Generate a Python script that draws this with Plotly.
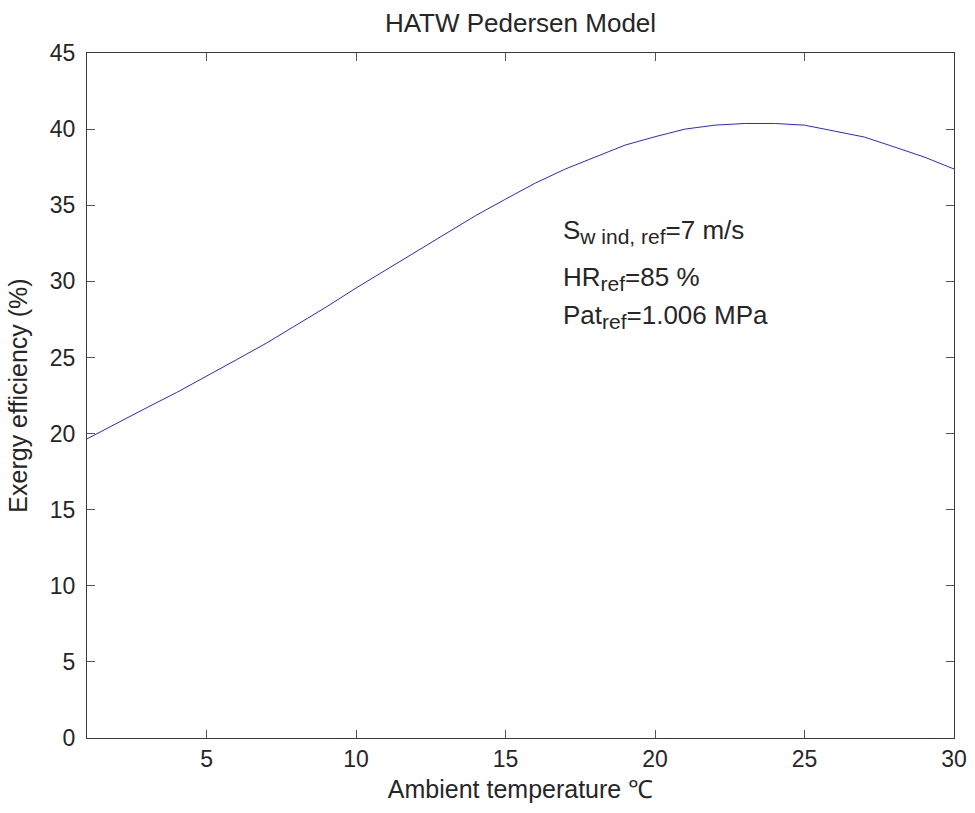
import plotly.graph_objects as go

# Data
temperature = [1, 2, 3, 4, 5, 6, 7, 8, 9, 10, 11, 12, 13, 14, 15,
               16, 17, 18, 19, 20, 21, 22, 23, 24, 25, 26, 27, 28, 29, 30]
efficiency = [19.65, 20.7, 21.7, 22.7, 23.75, 24.85, 25.94, 27.1, 28.31, 29.56,
              30.75, 31.95, 33.15, 34.32, 35.4, 36.46, 37.38, 38.17, 38.95, 39.5,
              40.0, 40.26, 40.37, 40.37, 40.26, 39.87, 39.48, 38.83, 38.17, 37.38]

x_ticks = [5, 10, 15, 20, 25, 30]
y_ticks = [0, 5, 10, 15, 20, 25, 30, 35, 40, 45]

title_text = "HATW Pedersen Model"
x_label = "Ambient temperature \u2103"
y_label = "Exergy efficiency (%)"
note_main = ["S", "HR", "Pat"]
note_sub = ["w ind, ref", "ref", "ref"]
note_rest = ["=7 m/s", "=85 %", "=1.006 MPa"]
note_y = [33.3, 30.2, 27.7]

FONT = "Liberation Sans, Arial, Helvetica, sans-serif"
TXT = "#262626"

fig = go.Figure()
fig.add_trace(go.Scatter(x=temperature, y=efficiency, mode="lines",
                         line=dict(color="#2b2bbf", width=1), showlegend=False))

for m, s, r, yy in zip(note_main, note_sub, note_rest, note_y):
    txt = f"{m}<sub><span style='font-size:21px'>{s}</span></sub>{r}"
    fig.add_annotation(x=16.85, y=yy, xref="x", yref="y", text=txt, showarrow=False,
                       xanchor="left", yanchor="middle",
                       font=dict(family=FONT, size=26, color=TXT))

axis_common = dict(showgrid=False, zeroline=False, showline=True, mirror="ticks",
                   linecolor="#3a3a3a", linewidth=1, ticks="inside", ticklen=8,
                   tickcolor="#555555", tickwidth=1,
                   tickfont=dict(family=FONT, size=23, color=TXT))

fig.update_xaxes(range=[1, 30], tickvals=x_ticks,
                 title=dict(text=x_label, font=dict(family=FONT, size=25, color=TXT), standoff=9),
                 **axis_common)
fig.update_yaxes(range=[0, 45], tickvals=y_ticks, ticklabelstandoff=6,
                 title=dict(text=y_label, font=dict(family=FONT, size=25, color=TXT), standoff=15),
                 **axis_common)

fig.update_layout(
    width=975, height=813,
    margin=dict(l=87, r=21, t=53, b=75, autoexpand=False),
    paper_bgcolor="white", plot_bgcolor="white",
    title=dict(text=title_text, x=0.5, xref="paper", y=1 - 23 / 813, yanchor="middle",
               font=dict(family=FONT, size=26, color=TXT)),
    font=dict(family=FONT, color=TXT),
)
fig.update_xaxes(automargin=False)
fig.update_yaxes(automargin=False)

fig.write_html("out.html", config={"displayModeBar": False},
               post_script="document.body.style.margin='0';document.body.style.overflow='hidden';")
